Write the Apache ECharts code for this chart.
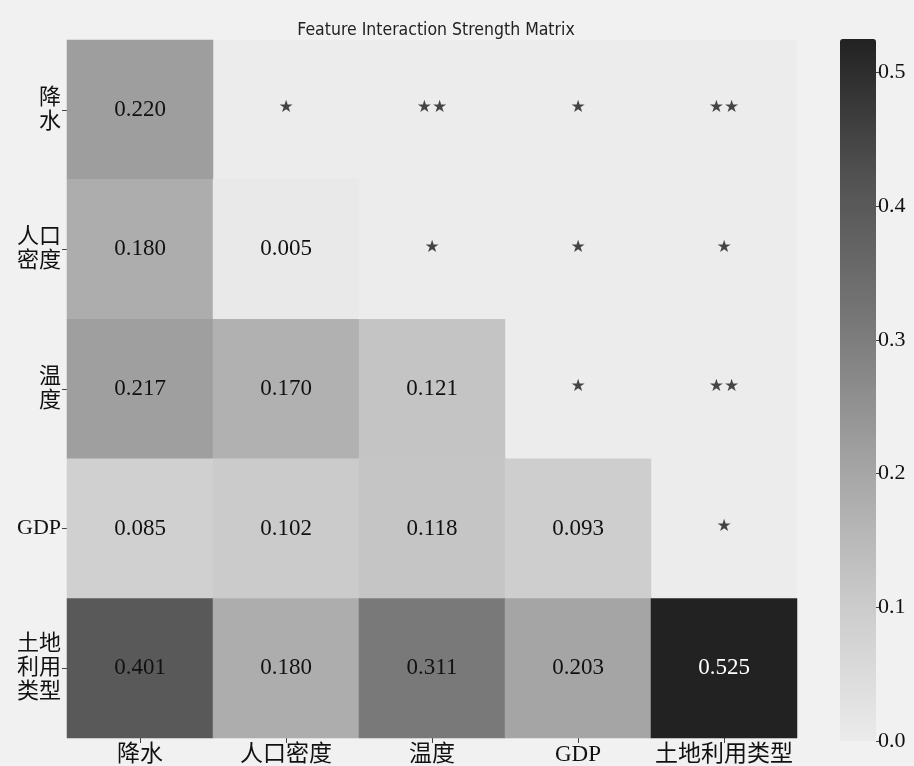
<!DOCTYPE html>
<html>
<head>
<meta charset="utf-8">
<title>Feature Interaction Strength Matrix</title>
<script src="https://cdn.jsdelivr.net/npm/echarts@6/dist/echarts.min.js"></script>
<style>
  html, body { margin: 0; padding: 0; background: #f1f1f1; }
  #chart { width: 914px; height: 766px; }
</style>
</head>
<body>
<div id="chart"></div>
<script>
// Feature names (columns left to right, rows top to bottom)
const features = ['降水', '人口密度', '温度', 'GDP', '土地利用类型'];
// Row tick labels as they are wrapped on the left side
const rowTickLabels = ['降\n水', '人口\n密度', '温\n度', 'GDP', '土地\n利用\n类型'];

// Interaction strength, lower triangle incl. diagonal (one array per row)
const rowPrecip  = [0.220];
const rowPopDens = [0.180, 0.005];
const rowTemp    = [0.217, 0.170, 0.121];
const rowGDP     = [0.085, 0.102, 0.118, 0.093];
const rowLandUse = [0.401, 0.180, 0.311, 0.203, 0.525];
const strengthRows = [rowPrecip, rowPopDens, rowTemp, rowGDP, rowLandUse];

// Significance marks in the upper triangle: [column, row, mark]
const significance = [
  [1, 0, '*'], [2, 0, '**'], [3, 0, '*'], [4, 0, '**'],
  [2, 1, '*'], [3, 1, '*'], [4, 1, '*'],
  [3, 2, '*'], [4, 2, '**'],
  [4, 3, '*']
];

// Colour bar range and tick values
const scaleMin = 0;
const scaleMax = 0.525;
const colorbarTicks = [0, 0.1, 0.2, 0.3, 0.4, 0.5];

const greys = ['#ebebeb', '#cacaca', '#a2a2a2', '#777777', '#525252', '#222222'];
const serif = '"Liberation Serif", "Noto Sans CJK SC", serif';

const heatData = [];
strengthRows.forEach((vals, r) => {
  vals.forEach((v, c) => {
    heatData.push({
      value: [c, r, v],
      label: { color: v > 0.45 ? '#ffffff' : '#111111' }
    });
  });
});

const starData = significance.map(([c, r, m]) => ({ value: [c, r], mark: m }));

const chart = echarts.init(document.getElementById('chart'), null, { renderer: 'canvas' });

chart.setOption({
  backgroundColor: '#f1f1f1',
  animation: false,
  title: {
    text: 'Feature Interaction Strength Matrix',
    left: 431,
    textAlign: 'center',
    top: 16,
    textStyle: {
      fontFamily: '"DejaVu Sans Condensed", "DejaVu Sans", sans-serif',
      fontSize: 17.5,
      fontWeight: 'normal',
      color: '#222'
    }
  },
  grid: [
    { left: 67, top: 40, width: 730, height: 700, show: true, backgroundColor: '#ececec', borderWidth: 0 },
    { left: 840, top: 39, width: 36, height: 702, show: false }
  ],
  xAxis: [
    {
      type: 'category',
      gridIndex: 0,
      data: features,
      position: 'bottom',
      axisLine: { show: false },
      axisTick: { show: true, alignWithLabel: true, length: 5, lineStyle: { color: '#444' } },
      axisLabel: { interval: 0, fontFamily: serif, fontSize: 23, color: '#111', margin: 5 },
      splitLine: { show: false }
    },
    {
      type: 'category',
      gridIndex: 1,
      data: ['bar'],
      show: false
    }
  ],
  yAxis: [
    {
      type: 'category',
      gridIndex: 0,
      data: features,
      inverse: true,
      axisLine: { show: false },
      axisTick: { show: true, alignWithLabel: true, length: 5, lineStyle: { color: '#444' } },
      axisLabel: {
        interval: 0,
        fontFamily: serif,
        fontSize: 22,
        lineHeight: 24,
        color: '#111',
        margin: 6,
        formatter: (v, i) => rowTickLabels[i]
      },
      splitLine: { show: false }
    },
    {
      type: 'value',
      gridIndex: 1,
      min: scaleMin,
      max: scaleMax,
      position: 'right',
      axisLine: { show: false },
      axisTick: { show: true, length: 5, customValues: colorbarTicks, lineStyle: { color: '#444' } },
      axisLabel: {
        customValues: colorbarTicks,
        formatter: v => v.toFixed(1),
        fontFamily: serif,
        fontSize: 22,
        color: '#111',
        margin: 2
      },
      splitLine: { show: false }
    }
  ],
  visualMap: {
    type: 'continuous',
    seriesIndex: 0,
    min: scaleMin,
    max: scaleMax,
    calculable: false,
    orient: 'vertical',
    left: 840,
    top: 39,
    itemWidth: 36,
    itemHeight: 702,
    padding: 0,
    hoverLink: false,
    inRange: { color: greys }
  },
  series: [
    {
      type: 'heatmap',
      xAxisIndex: 0,
      yAxisIndex: 0,
      data: heatData,
      label: {
        show: true,
        fontFamily: serif,
        fontSize: 23,
        formatter: p => p.value[2].toFixed(3)
      },
      emphasis: { disabled: true }
    },
    {
      type: 'scatter',
      xAxisIndex: 0,
      yAxisIndex: 0,
      data: starData,
      symbolSize: 0,
      label: {
        show: true,
        position: 'inside',
        fontFamily: '"DejaVu Sans", sans-serif',
        fontSize: 17,
        color: '#1a1a1a',
        offset: [0, -2],
        formatter: p => p.data.mark.replace(/\*/g, '★')
      },
      emphasis: { disabled: true }
    },
    {
      type: 'bar',
      xAxisIndex: 1,
      yAxisIndex: 1,
      data: [],
      silent: true
    }
  ]
});
</script>
</body>
</html>
